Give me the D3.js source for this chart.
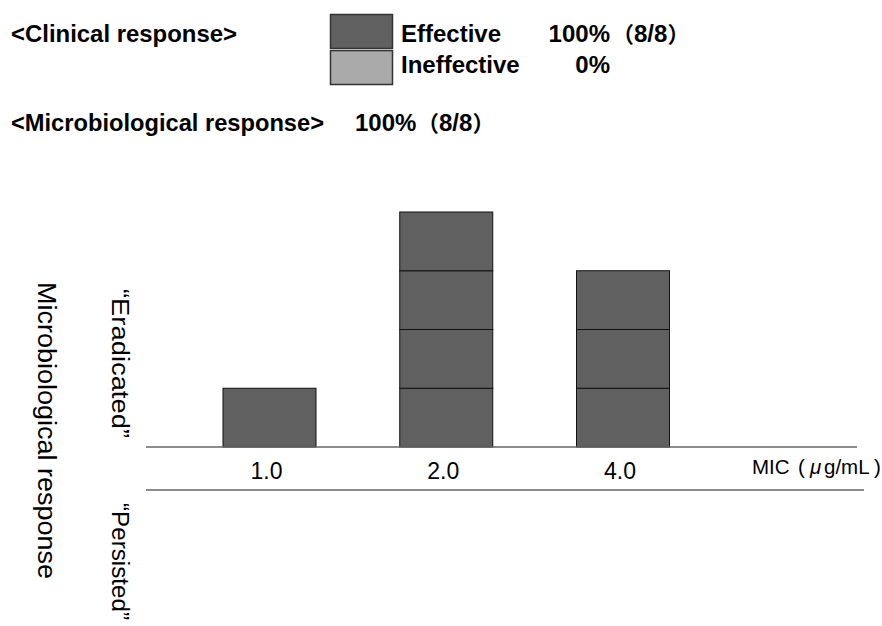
<!DOCTYPE html>
<html>
<head>
<meta charset="utf-8">
<script src="https://cdn.jsdelivr.net/npm/d3@7/dist/d3.min.js"></script>
<style>
  html, body { margin: 0; padding: 0; background: #fff; }
  svg { display: block; }
  text { font-family: "Liberation Sans", Arial, "Noto Sans CJK JP", sans-serif; fill: #000; }
</style>
</head>
<body>
<svg id="chart" width="882" height="626"></svg>
<script>
// ---- data ----
const categories = ["1.0", "2.0", "4.0"];
const eradicated = [1, 4, 3];   // number of strains "Eradicated" per MIC
const persisted  = [0, 0, 0];   // number of strains "Persisted" per MIC
const legendLabels = ["Effective", "Ineffective"];
const legendValues = ["100%", "0%"];
const legendCounts = ["8/8", ""];
const microValue = "100%";
const microCount = "8/8";

const svg = d3.select("#chart");
const colorEff = "#606060", colorIneff = "#aaaaaa";
const cjk = "'Noto Sans CJK JP', sans-serif";

function countText(x0, y0, str) {
  if (!str) return;
  const t = svg.append("text").attr("x", x0).attr("y", y0)
    .attr("font-size", 24).attr("font-weight", "bold");
  t.append("tspan").attr("font-family", cjk).attr("font-size", 22).text("（");
  t.append("tspan").text(str);
  t.append("tspan").attr("font-family", cjk).attr("font-size", 22).text("）");
}

// ---- header ----
svg.append("text").attr("x", 11).attr("y", 42)
  .attr("font-size", 24).attr("font-weight", "bold")
  .attr("textLength", 226).attr("lengthAdjust", "spacingAndGlyphs")
  .text("<Clinical response>");

const legY = d3.scaleBand().domain(legendLabels).range([14, 84]).paddingInner(0.06);
const leg = svg.selectAll("g.leg").data(legendLabels).join("g").attr("class", "leg");
leg.append("rect")
  .attr("x", 330.5).attr("y", d => legY(d) + 0.5)
  .attr("width", 62).attr("height", legY.bandwidth())
  .attr("fill", (d, i) => i === 0 ? colorEff : colorIneff)
  .attr("stroke", "#333").attr("stroke-width", 1.5);
leg.append("text").attr("x", 401).attr("y", (d, i) => i === 0 ? 42 : 73)
  .attr("font-size", 24).attr("font-weight", "bold").text(d => d);
leg.append("text").attr("x", 610).attr("y", (d, i) => i === 0 ? 42 : 73)
  .attr("font-size", 24).attr("font-weight", "bold").attr("text-anchor", "end")
  .text((d, i) => legendValues[i]);
legendLabels.forEach((d, i) => countText(612, i === 0 ? 42 : 73, legendCounts[i]));

svg.append("text").attr("x", 11).attr("y", 131)
  .attr("font-size", 24).attr("font-weight", "bold")
  .attr("textLength", 313).attr("lengthAdjust", "spacingAndGlyphs")
  .text("<Microbiological response>");
svg.append("text").attr("x", 355).attr("y", 131)
  .attr("font-size", 24).attr("font-weight", "bold").text(microValue);
countText(417, 131, microCount);

// ---- scales ----
const x = d3.scalePoint().domain(categories).range([269.5, 623]);
const barW = 93;
const y = d3.scaleLinear().domain([0, 4]).range([447, 212]);
const yDown = d3.scaleLinear().domain([0, 4]).range([490, 725]);

// ---- stacked unit bars ----
const cells = [];
categories.forEach((c, i) => {
  for (let k = 0; k < eradicated[i]; k++) cells.push({ c, k, up: true });
  for (let k = 0; k < persisted[i]; k++) cells.push({ c, k, up: false });
});
svg.append("g").selectAll("rect").data(cells).join("rect")
  .attr("x", d => x(d.c) - barW / 2)
  .attr("y", d => d.up ? y(d.k + 1) : yDown(d.k))
  .attr("width", barW)
  .attr("height", d => d.up ? y(d.k) - y(d.k + 1) : yDown(d.k + 1) - yDown(d.k))
  .attr("fill", colorEff)
  .attr("stroke", "#111").attr("stroke-width", 1);

// ---- baselines ----
svg.append("line").attr("x1", 146).attr("x2", 857).attr("y1", y(0)).attr("y2", y(0))
  .attr("stroke", "#666").attr("stroke-width", 1.5);
svg.append("line").attr("x1", 146).attr("x2", 864).attr("y1", yDown(0)).attr("y2", yDown(0))
  .attr("stroke", "#666").attr("stroke-width", 1.5);

// ---- category labels ----
svg.append("g").selectAll("text").data(categories).join("text")
  .attr("x", d => x(d) - 3).attr("y", 479)
  .attr("font-size", 23).attr("text-anchor", "middle").text(d => d);

// ---- x-axis unit label: MIC（ μ g/mL） ----
const mic = svg.append("text").attr("x", 752).attr("y", 474).attr("font-size", 20.5);
mic.append("tspan").text("MIC");
mic.append("tspan").attr("x", 798).text("(");
mic.append("tspan").attr("x", 810).attr("font-style", "italic").text("μ");
mic.append("tspan").attr("x", 824).text("g/mL");
mic.append("tspan").attr("x", 874).text(")");

// ---- vertical labels ----
function vtext(tx, ty, size, len, str) {
  svg.append("text")
    .attr("transform", `translate(${tx},${ty}) rotate(90)`)
    .attr("font-size", size)
    .attr("textLength", len).attr("lengthAdjust", "spacingAndGlyphs")
    .text(str);
}
vtext(38, 282, 26, 297, "Microbiological response");
vtext(112, 289, 23, 149, "“Eradicated”");
vtext(112, 503, 23, 117, "“Persisted”");
</script>
</body>
</html>
